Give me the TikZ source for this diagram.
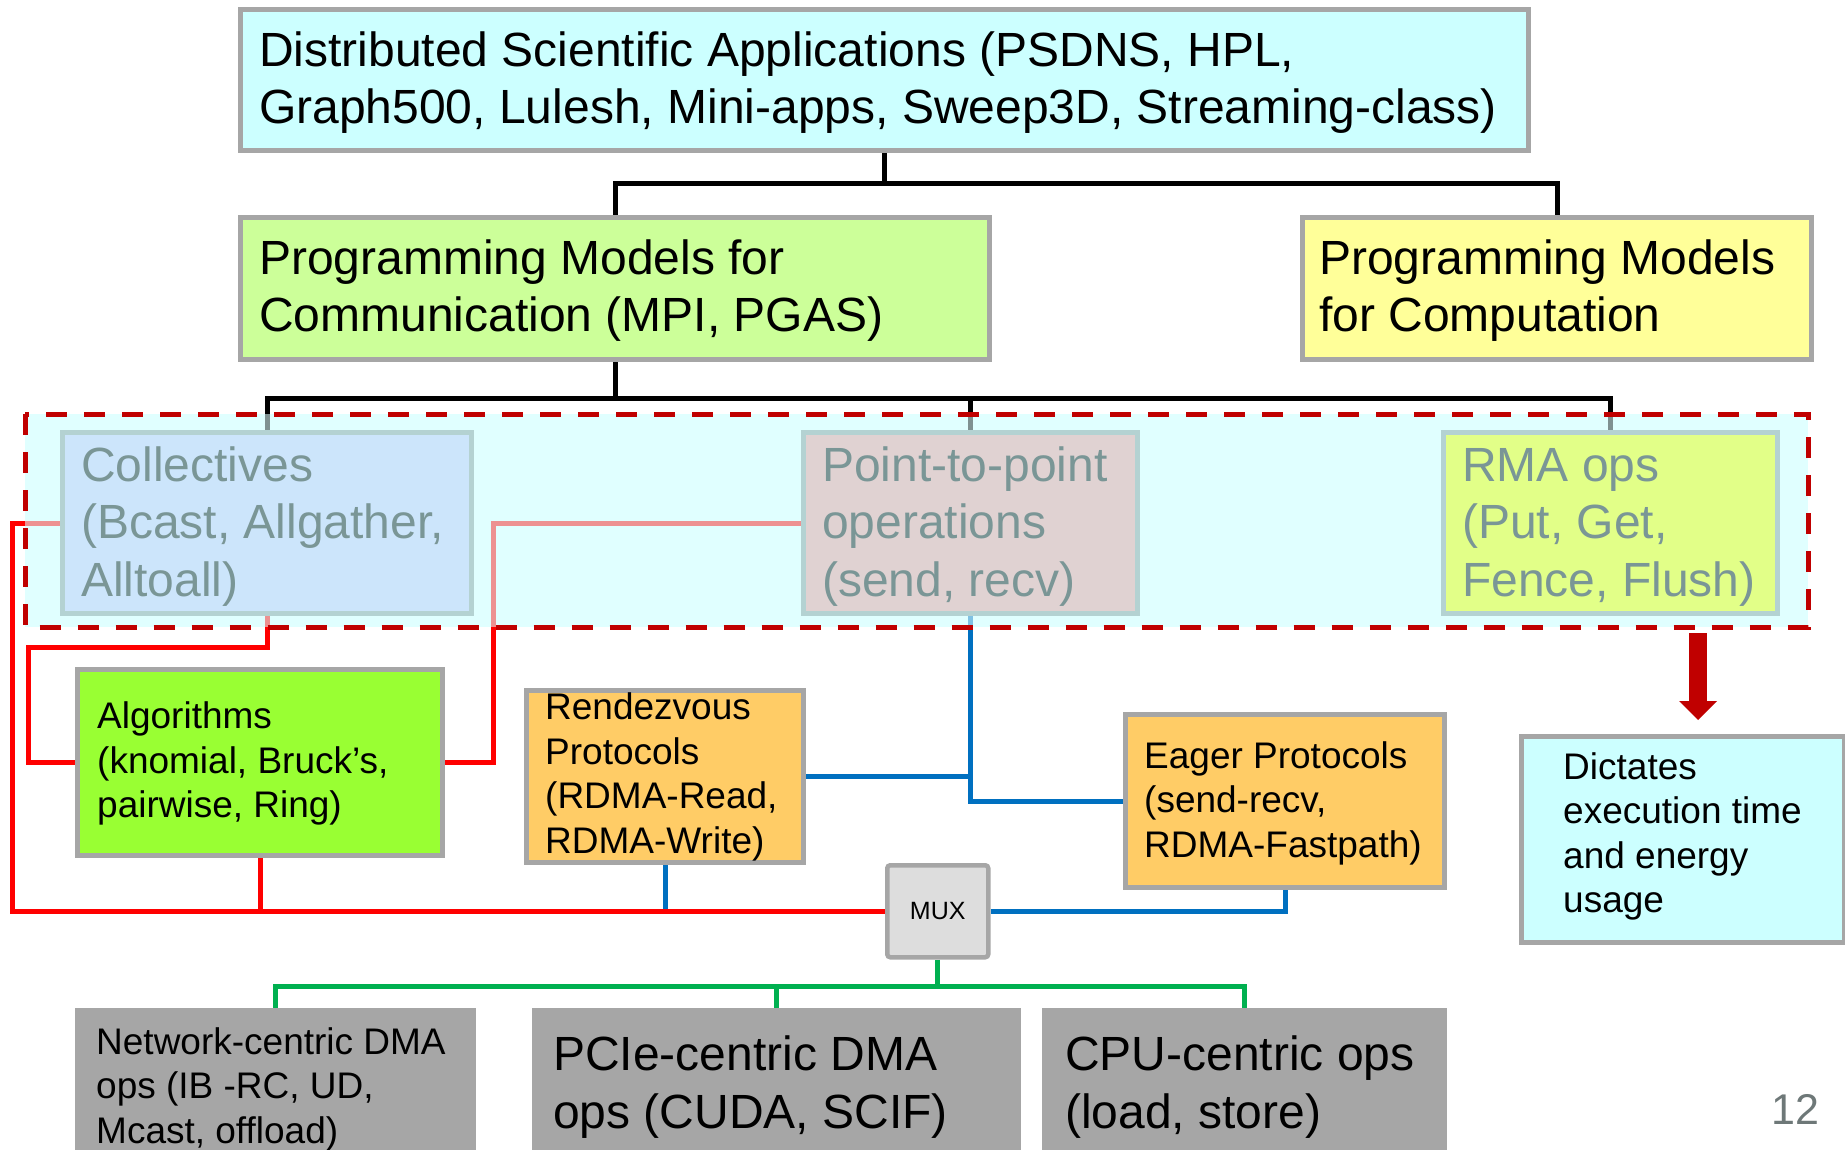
\documentclass[tikz,border=0pt]{standalone}
\usepackage{fontspec}
\setmainfont{Liberation Sans}
\usetikzlibrary{calc}

\definecolor{boxgray}{HTML}{A6A6A6}
\definecolor{appsfill}{HTML}{CCFFFF}
\definecolor{commfill}{HTML}{CCFF99}
\definecolor{compfill}{HTML}{FFFF99}
\definecolor{regionfill}{HTML}{E0FFFF}
\definecolor{collfill}{HTML}{CCE5FB}
\definecolor{ptpfill}{HTML}{E0D2D2}
\definecolor{rmafill}{HTML}{E2FF88}
\definecolor{fadedborder}{HTML}{B4D2D2}
\definecolor{fadedtext}{HTML}{7A9696}
\definecolor{algfill}{HTML}{99FF33}
\definecolor{protofill}{HTML}{FFCC66}
\definecolor{muxfill}{HTML}{DDDDDD}
\definecolor{linered}{HTML}{FF0000}
\definecolor{darkred}{HTML}{C00000}
\definecolor{lineblue}{HTML}{0070C0}
\definecolor{linegreen}{HTML}{00B050}
\definecolor{pagenum}{HTML}{6E7878}

\pgfdeclarelayer{bg}
\pgfdeclarelayer{wires}
\pgfdeclarelayer{veil}
\pgfsetlayers{bg,wires,veil,main}

\begin{document}
\begin{tikzpicture}[x=1pt,y=-1pt,
  box/.style={draw=boxgray, line width=5pt, inner sep=0pt, anchor=north west},
  fadedbox/.style={box, draw=fadedborder},
  hwbox/.style={box, draw=boxgray, fill=boxgray, minimum height=200pt},
  bigtxt/.style={font=\fontsize{48}{57.5}\selectfont, align=left, inner sep=0pt, anchor=base west},
  smalltxt/.style={font=\fontsize{37}{44.5}\selectfont, align=left, inner sep=0pt, anchor=base west},
  wire/.style={line width=5pt},
  blk/.style={wire, draw=black},
  redw/.style={wire, draw=linered},
  bluew/.style={wire, draw=lineblue},
  greenw/.style={wire, draw=linegreen}]

\useasboundingbox (0,0) rectangle (1845,1150);
\begin{pgfonlayer}{bg}
  \fill[white] (0,0) rectangle (1845,1150);
\end{pgfonlayer}

% ---------- boxes ----------
\node[box, fill=appsfill, minimum width=1288pt, minimum height=141pt] (apps) at (238,7) {};
\node[box, fill=commfill, minimum width=749pt, minimum height=142pt] (comm) at (238,215) {};
\node[box, fill=compfill, minimum width=509pt, minimum height=142pt] (comp) at (1300,215) {};

% communication layer region
\node[inner sep=0pt, minimum width=1783pt, minimum height=213pt, anchor=north west] (ctl) at (25,414) {};
\node[fadedbox, fill=collfill, minimum width=409pt, minimum height=181pt] (coll) at (60,430) {};
\node[fadedbox, fill=ptpfill, minimum width=334pt, minimum height=181pt] (ptp) at (801,430) {};
\node[fadedbox, fill=rmafill, minimum width=334pt, minimum height=181pt] (rma) at (1441,430) {};

\node[box, fill=algfill, minimum width=365pt, minimum height=186pt] (alg) at (75,667) {};
\node[box, fill=protofill, minimum width=277pt, minimum height=172pt] (rdv) at (524,688) {};
\node[box, fill=protofill, minimum width=319pt, minimum height=173pt] (eager) at (1123,712) {};
\node[box, fill=appsfill, minimum width=323pt, minimum height=206pt] (dict) at (1519,734) {};
\node[box, fill=muxfill, line width=4.5pt, rounded corners=3pt, minimum width=101pt, minimum height=92pt,
      font=\fontsize{25}{30}\selectfont] (mux) at (885,863) {MUX};

\node[hwbox, minimum width=396pt] (net) at (75,1008) {};
\node[hwbox, minimum width=484pt] (pcie) at (532,1008) {};
\node[hwbox, minimum width=400pt] (cpu) at (1042,1008) {};

% ---------- labels (placed by the baseline of their last line) ----------
\node[bigtxt] (apps-t) at ([shift={(21,117)}]apps.north west)
  {Distributed Scientific Applications (PSDNS, HPL,\\Graph500, Lulesh, Mini-apps, Sweep3D, Streaming-class)};
\node[bigtxt] (comm-t) at ([shift={(21,117)}]comm.north west)
  {Programming Models for\\Communication (MPI, PGAS)};
\node[bigtxt] (comp-t) at ([shift={(19,117)}]comp.north west)
  {Programming Models\\for Computation};
\node[bigtxt, text=fadedtext] (coll-t) at ([shift={(21,166)}]coll.north west)
  {Collectives\\(Bcast, Allgather,\\Alltoall)};
\node[bigtxt, text=fadedtext] (ptp-t) at ([shift={(21,166)}]ptp.north west)
  {Point-to-point\\operations\\(send, recv)};
\node[bigtxt, text=fadedtext] (rma-t) at ([shift={(21,166)}]rma.north west)
  {RMA ops\\(Put, Get,\\Fence, Flush)};
\node[smalltxt] (alg-t) at ([shift={(22,150.5)}]alg.north west)
  {Algorithms\\(knomial, Bruck’s,\\pairwise, Ring)};
\node[smalltxt] (rdv-t) at ([shift={(21,165)}]rdv.north west)
  {Rendezvous\\Protocols\\(RDMA-Read,\\RDMA-Write)};
\node[smalltxt] (eager-t) at ([shift={(21,145)}]eager.north west)
  {Eager Protocols\\(send-recv,\\RDMA-Fastpath)};
\node[smalltxt] (dict-t) at ([shift={(44,178.5)}]dict.north west)
  {Dictates\\execution time\\and energy\\usage};
\node[smalltxt] (net-t) at ([shift={(21,135)}]net.north west)
  {Network-centric DMA\\ops (IB -RC, UD,\\Mcast, offload)};
\node[bigtxt] (pcie-t) at ([shift={(21,120)}]pcie.north west)
  {PCIe-centric DMA\\ops (CUDA, SCIF)};
\node[bigtxt] (cpu-t) at ([shift={(23,120)}]cpu.north west)
  {CPU-centric ops\\(load, store)};
\node[font=\fontsize{43}{50}\selectfont, text=pagenum, inner sep=0pt, anchor=base west] (pageno) at (1771,1124) {12};

% ---------- region fill and border ----------
\begin{pgfonlayer}{bg}
  \fill[regionfill] (ctl.north west) rectangle (ctl.south east);
\end{pgfonlayer}
\begin{pgfonlayer}{veil}
  \fill[regionfill, opacity=0.57] (ctl.north west) rectangle (ctl.south east);
\end{pgfonlayer}
\draw[darkred, line width=5pt, dash pattern=on 21pt off 17pt] (ctl.north west) rectangle (ctl.south east);

% ---------- connectors ----------
\begin{pgfonlayer}{wires}
  % application tree
  \coordinate (j1) at ($(apps.south)!0.5!(apps.south |- comm.north)$);
  \draw[blk] (apps.south) -- (j1);
  \draw[blk] (comm.north) |- (j1) -| (comp.north);
  \coordinate (j2) at ([yshift=-36pt]comm.south);
  \draw[blk] (comm.south) -- (j2);
  \draw[blk] (coll.north) |- (j2) -| (rma.north);
  \draw[blk] (ptp.north) -- (ptp.north |- j2);

  % point-to-point paths
  \draw[bluew] (ptp.south) |- (eager.west);
  \draw[bluew] (rdv.east) -- (rdv.east -| ptp.south);
  \draw[bluew] (rdv.south) -- (rdv.south |- mux.west);
  \draw[bluew] (mux.east) -| (eager.south);

  % collective paths
  \draw[redw] (coll.west) -- ([xshift=-47.5pt]coll.west) |- (mux.west);
  \draw[redw] (coll.south) -- ([yshift=-31pt]coll.south) -| ([xshift=-46.5pt]alg.west) -- (alg.west);
  \draw[redw] (ptp.west) -| ([xshift=48pt]alg.east) -- (alg.east);
  \draw[redw] (alg.south) -- (alg.south |- mux.west);

  % transports below the multiplexer
  \coordinate (j3) at ([yshift=-27pt]mux.south);
  \draw[greenw] (mux.south) -- (j3);
  \draw[greenw] (net.north) |- (j3) -| (cpu.north);
  \draw[greenw] (pcie.north) -- (pcie.north |- j3);
\end{pgfonlayer}

% ---------- outcome arrow ----------
\coordinate (tip) at (1698,720);
\coordinate (atop) at (tip |- ctl.south);
\draw[darkred, line width=18pt] (atop) ++(0,6) -- ([yshift=19pt]tip);
\fill[darkred] (tip) -- ++(-19,-19) -- ++(38,0) -- cycle;

\end{tikzpicture}
\end{document}
